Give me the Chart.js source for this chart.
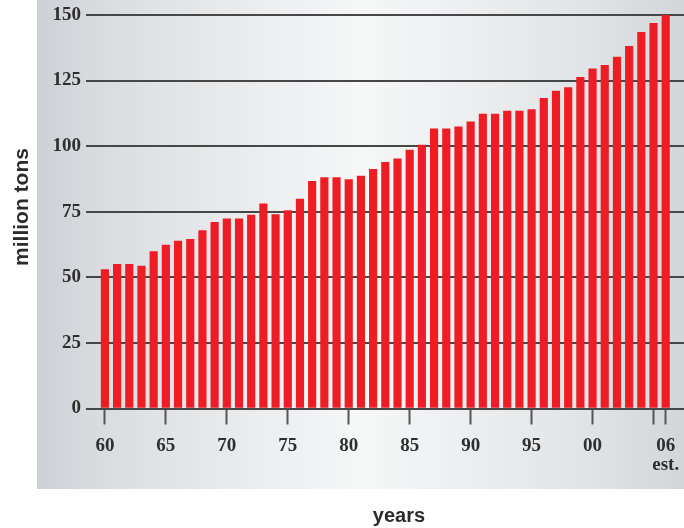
<!DOCTYPE html>
<html>
<head>
<meta charset="utf-8">
<script src="https://cdn.jsdelivr.net/npm/chart.js@4/dist/chart.umd.min.js"></script>
<style>
  html, body { margin: 0; padding: 0; background: #ffffff; }
  canvas { display: block; }
</style>
</head>
<body>
<canvas id="chart" width="684" height="528"></canvas>
<script>
// Annual production, million tons
const years = [
  1960, 1961, 1962, 1963, 1964, 1965, 1966, 1967, 1968, 1969,
  1970, 1971, 1972, 1973, 1974, 1975, 1976, 1977, 1978, 1979,
  1980, 1981, 1982, 1983, 1984, 1985, 1986, 1987, 1988, 1989,
  1990, 1991, 1992, 1993, 1994, 1995, 1996, 1997, 1998, 1999,
  2000, 2001, 2002, 2003, 2004, 2005, 2006
];
const tonnage = [
  53.0, 55.0, 55.0, 54.3, 59.8, 62.3, 63.8, 64.5, 67.8, 71.0,
  72.3, 72.3, 73.7, 78.0, 73.9, 75.4, 79.8, 86.6, 88.0, 88.0,
  87.3, 88.6, 91.2, 93.8, 95.2, 98.5, 100.4, 106.6, 106.6, 107.4,
  109.3, 112.2, 112.2, 113.4, 113.4, 113.9, 118.2, 121.0, 122.3, 126.2,
  129.5, 130.8, 134.0, 138.1, 143.4, 146.8, 150.0
];
const tickYears = [1960, 1965, 1970, 1975, 1980, 1985, 1990, 1995, 2000, 2005, 2006];
const tickLabels = ['60', '65', '70', '75', '80', '85', '90', '95', '00', '', ['06', 'est.']];
const yAxisTitle = 'million tons';
const xAxisTitle = 'years';

// Grey panel with a soft horizontal sheen, plus the two axis captions
const panelPlugin = {
  id: 'panel',
  beforeDraw(chart) {
    const ctx = chart.ctx;
    ctx.save();
    ctx.fillStyle = '#ffffff';
    ctx.fillRect(0, 0, chart.width, chart.height);
    const g = ctx.createLinearGradient(37, 0, 684, 0);
    g.addColorStop(0, '#cdd0d4');
    g.addColorStop(0.1, '#dadde0');
    g.addColorStop(0.5, '#f6f7f7');
    g.addColorStop(0.85, '#e1e4e6');
    g.addColorStop(1, '#d3d6d9');
    ctx.fillStyle = g;
    ctx.fillRect(37, 0, 684 - 37, 489);
    ctx.restore();
  },
  afterDraw(chart) {
    const ctx = chart.ctx;
    ctx.save();
    ctx.fillStyle = '#2b2b2b';
    ctx.font = 'bold 20px "Liberation Sans", Arial, sans-serif';
    ctx.textAlign = 'center';
    ctx.textBaseline = 'alphabetic';
    ctx.fillText(xAxisTitle, 399, 522);
    ctx.font = 'bold 21px "Liberation Sans", Arial, sans-serif';
    ctx.translate(28, 207);
    ctx.rotate(-Math.PI / 2);
    ctx.fillText(yAxisTitle, 0, 0);
    ctx.restore();
  }
};

const tickFont = { family: '"Liberation Serif", "Times New Roman", serif', size: 19, weight: 'bold', lineHeight: 1.0 };

new Chart(document.getElementById('chart'), {
  type: 'bar',
  data: {
    datasets: [{
      data: years.map((yr, i) => ({ x: yr, y: tonnage[i] })),
      backgroundColor: '#ee1c24',
      borderWidth: 0,
      barThickness: 7.5
    }]
  },
  options: {
    responsive: false,
    animation: false,
    devicePixelRatio: 1,
    layout: { padding: { top: 15, right: 0, bottom: 0, left: 0 } },
    plugins: {
      legend: { display: false },
      tooltip: { enabled: false }
    },
    scales: {
      x: {
        type: 'linear',
        min: 1958.45,
        max: 2007.5,
        offset: false,
        afterBuildTicks(scale) {
          scale.ticks = tickYears.map(v => ({ value: v }));
        },
        afterFit(scale) {
          scale.height = 119.5;
          scale.paddingLeft = 0;
          scale.paddingRight = 0;
        },
        border: { display: false },
        grid: {
          offset: false,
          drawOnChartArea: false,
          drawTicks: true,
          tickLength: 16,
          tickWidth: 2,
          tickColor: '#555555'
        },
        ticks: {
          autoSkip: false,
          maxRotation: 0,
          padding: 12,
          color: '#2e2e2e',
          font: tickFont,
          callback(value, index) { return tickLabels[index]; }
        }
      },
      y: {
        min: 0,
        max: 150,
        z: 1,
        afterFit(scale) { scale.width = 86; },
        border: { display: false },
        grid: {
          drawTicks: false,
          lineWidth: 2,
          color: '#474747'
        },
        ticks: {
          stepSize: 25,
          padding: 5,
          color: '#2e2e2e',
          font: tickFont
        }
      }
    }
  },
  plugins: [panelPlugin]
});
</script>
</body>
</html>
